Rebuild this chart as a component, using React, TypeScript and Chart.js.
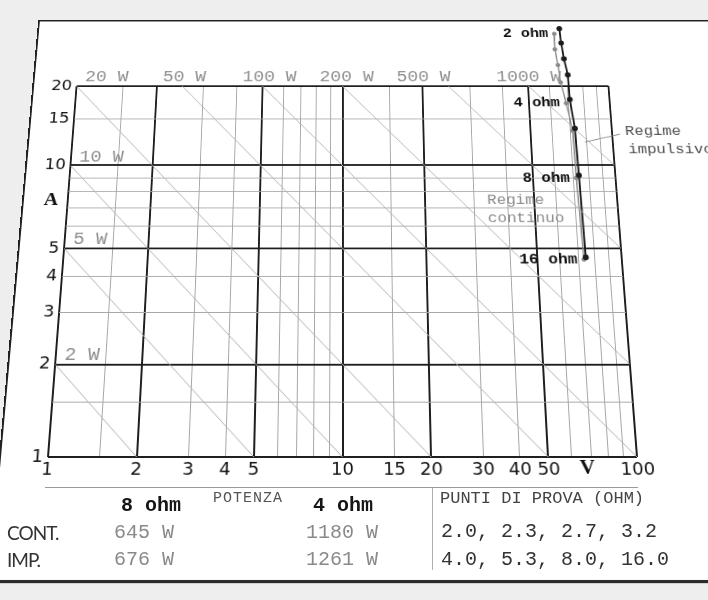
import React, { useEffect, useRef } from 'react';
import { Chart, registerables } from 'chart.js';

Chart.register(...registerables);

// Test loads (ohm) and the measured output power at each load
const loadsOhm = [2.0, 2.3, 2.7, 3.2, 4.0, 5.3, 8.0, 16.0];
const continuousWatts = [2071, 1789, 1580, 1370, 1180, 965, 645, 335];
const impulseWatts = [2274, 2010, 1766, 1565, 1261, 1005, 676, 346];
const labelledLoads = [2, 4, 8, 16];

// Constant-power reference lines (W)
const powerLinesW = [2, 5, 10, 20, 50, 100, 200, 500, 1000];
const topLabelWatts = [20, 50, 100, 200, 500, 1000];
const topLabelVolts = [1.07, 2.1, 4.2, 8.2, 16, 38];
const sideLabelWatts = [10, 5, 2];

// Log-log grid
const voltGrid = [1, 1.5, 2, 3, 4, 5, 6, 7, 8, 9, 10, 15, 20, 30, 40, 50, 60, 70, 80, 90, 100];
const voltLabels = [1, 2, 3, 4, 5, 10, 15, 20, 30, 40, 50, 100];
const voltMajor = [1, 2, 5, 10, 20, 50, 100];
const ampGrid = [1, 1.5, 2, 3, 4, 5, 6, 7, 8, 9, 10, 15, 20];
const ampLabels = [1, 2, 3, 4, 5, 10, 15, 20];
const ampMajor = [1, 2, 5, 10, 20];

const MONO = '"Liberation Mono", "Courier New", monospace';
const SANS = '"DejaVu Sans", sans-serif';

const toPoint = (ohm: number, watts: number) => ({
  x: Math.sqrt(watts * ohm),
  y: Math.sqrt(watts / ohm),
});

const continuousPoints = loadsOhm.map((r, i) => toPoint(r, continuousWatts[i]));
const impulsePoints = loadsOhm.map((r, i) => toPoint(r, impulseWatts[i]));

// each constant-power line runs from the top/left border to the bottom/right border
const powerLine = (w: number) => {
  const v0 = Math.max(1, w / 20);
  const v1 = Math.min(100, w / 1);
  return [
    { x: v0, y: w / v0 },
    { x: v1, y: w / v1 },
  ];
};

// marker style for the two load curves (drawn by the plugin so that the
// points above the 20 A border stay visible)
const markerStyle: Record<string, { r: number; color: string }> = {
  'Regime continuo': { r: 2.6, color: '#8c8c8c' },
  'Regime impulsivo': { r: 3.2, color: '#1c1c1c' },
};

const annotations = {
  id: 'annotations',
  afterDatasetsDraw(chart: any) {
    const { ctx, chartArea: area } = chart;
    const x = chart.scales.x;
    const y = chart.scales.y;
    ctx.save();

    // load curve markers
    chart.data.datasets.forEach((ds: any, i: number) => {
      const st = markerStyle[ds.label];
      if (!st) return;
      ctx.fillStyle = st.color;
      chart.getDatasetMeta(i).data.forEach((el: any) => {
        ctx.beginPath();
        ctx.arc(el.x, el.y, st.r, 0, Math.PI * 2);
        ctx.fill();
      });
    });

    ctx.textBaseline = 'middle';

    // power line captions
    ctx.font = `20px ${MONO}`;
    ctx.fillStyle = '#8e8e8e';
    ctx.textAlign = 'left';
    topLabelWatts.forEach((w, i) => {
      ctx.fillText(`${w} W`, x.getPixelForValue(topLabelVolts[i]), area.top - 11);
    });
    sideLabelWatts.forEach((w) => {
      ctx.fillText(`${w} W`, area.left + 9, y.getPixelForValue(w) - 10);
    });

    // axis units
    ctx.font = `bold 21px "Liberation Serif", serif`;
    ctx.fillStyle = '#111';
    ctx.textAlign = 'center';
    ctx.fillText('A', area.left - 18, y.getPixelForValue(7.45));
    ctx.fillText('V', x.getPixelForValue(67.5), area.bottom + 12);

    // operating regimes
    ctx.font = `17px ${MONO}`;
    ctx.textAlign = 'left';
    ctx.fillStyle = '#8a8a8a';
    const cx = x.getPixelForValue(33.6);
    const cy = y.getPixelForValue(7.46);
    ctx.fillText('Regime', cx, cy);
    ctx.fillText('continuo', cx, cy + 21);

    ctx.fillStyle = '#505050';
    const ix = x.getPixelForValue(111.8);
    const iy = y.getPixelForValue(13.44);
    ctx.fillText('Regime', ix, iy);
    ctx.fillText('impulsivo', ix + 2, iy + 22);
    ctx.strokeStyle = '#888';
    ctx.lineWidth = 1;
    ctx.beginPath();
    ctx.moveTo(x.getPixelForValue(78.9), y.getPixelForValue(12.22));
    ctx.lineTo(x.getPixelForValue(107), y.getPixelForValue(13.09));
    ctx.stroke();

    // load captions
    ctx.font = `bold 17px ${MONO}`;
    ctx.fillStyle = '#111';
    ctx.textAlign = 'right';
    labelledLoads.forEach((r) => {
      const p = continuousPoints[loadsOhm.indexOf(r)];
      ctx.fillText(`${r} ohm`, x.getPixelForValue(p.x) - 7, y.getPixelForValue(p.y));
    });
    ctx.restore();
  },
};

const wattsAt = (series: number[], ohm: number) => series[loadsOhm.indexOf(ohm)];

export default function App() {
  const canvasRef = useRef<HTMLCanvasElement>(null);

  useEffect(() => {
    const canvas = canvasRef.current;
    if (!canvas) return;
    const chart = new Chart(canvas, {
      type: 'scatter',
      data: {
        datasets: [
          ...powerLinesW.map((w) => ({
            label: `${w} W`,
            data: powerLine(w),
            showLine: true,
            borderColor: '#b0b0b0',
            borderWidth: 1,
            pointRadius: 0,
          })),
          {
            label: 'Regime continuo',
            data: continuousPoints,
            showLine: true,
            borderColor: '#8c8c8c',
            borderWidth: 1.5,
            pointRadius: 0,
            clip: false,
          },
          {
            label: 'Regime impulsivo',
            data: impulsePoints,
            showLine: true,
            borderColor: '#1c1c1c',
            borderWidth: 2,
            pointRadius: 0,
            clip: false,
          },
        ],
      } as any,
      options: {
        animation: false,
        responsive: false,
        devicePixelRatio: 1,
        layout: { padding: { left: 8, top: 100, right: 123, bottom: 0 } },
        plugins: { legend: { display: false }, tooltip: { enabled: false } },
        scales: {
          x: {
            type: 'logarithmic',
            min: 1,
            max: 100,
            afterBuildTicks: (s: any) => {
              s.ticks = voltGrid.map((v) => ({ value: v }));
            },
            afterFit: (s: any) => {
              s.height = 23;
            },
            border: { display: false },
            grid: {
              drawTicks: false,
              color: (c: any) => (voltMajor.includes(c.tick?.value) ? '#1e1e1e' : '#a6a6a6'),
              lineWidth: (c: any) => (voltMajor.includes(c.tick?.value) ? 2 : 1),
            },
            ticks: {
              autoSkip: false,
              maxRotation: 0,
              padding: 3,
              color: '#111',
              font: { family: SANS, size: 18 },
              callback: (v: any) => (voltLabels.includes(Number(v)) ? String(v) : ''),
            },
          },
          y: {
            type: 'logarithmic',
            min: 1,
            max: 20,
            afterBuildTicks: (s: any) => {
              s.ticks = ampGrid.map((v) => ({ value: v }));
            },
            afterFit: (s: any) => {
              s.width = 40;
            },
            border: { display: false },
            grid: {
              drawTicks: false,
              color: (c: any) => (ampMajor.includes(c.tick?.value) ? '#1e1e1e' : '#a6a6a6'),
              lineWidth: (c: any) => (ampMajor.includes(c.tick?.value) ? 2 : 1),
            },
            ticks: {
              autoSkip: false,
              padding: 5,
              color: '#111',
              font: { family: SANS, size: 18 },
              callback: (v: any) => (ampLabels.includes(Number(v)) ? String(v) : ''),
            },
          },
        },
      } as any,
      plugins: [annotations],
    });
    return () => chart.destroy();
  }, []);

  const txt = (
    content: string,
    left: number,
    center: number,
    size: number,
    extra: React.CSSProperties = {}
  ) => (
    <div
      style={{
        position: 'absolute',
        left,
        top: center - size / 2 - 1,
        fontSize: size,
        lineHeight: `${size + 2}px`,
        whiteSpace: 'pre',
        fontFamily: MONO,
        ...extra,
      }}
    >
      {content}
    </div>
  );

  return (
    <div
      style={{
        position: 'absolute',
        left: 0,
        top: 0,
        width: 708,
        height: 600,
        overflow: 'hidden',
        background: '#eeeeee',
      }}
    >
      {/* the printed sheet, seen slightly from below */}
      <div
        style={{
          position: 'absolute',
          left: 0,
          top: -60,
          width: 820,
          height: 720,
          transformOrigin: '342.5px 517px',
          transform: 'perspective(675px) rotateX(10deg)',
        }}
      >
        <div
          style={{
            position: 'absolute',
            left: -1,
            top: 16,
            width: 821,
            height: 625,
            boxSizing: 'border-box',
            background: '#ffffff',
            borderLeft: '2px solid #222',
            borderTop: '2px solid #222',
            borderBottom: '3px solid #2b2b2b',
          }}
        />
        <canvas
          ref={canvasRef}
          width={760}
          height={540}
          style={{ position: 'absolute', left: 0, top: 0, width: 760, height: 540 }}
        />
      </div>

      {/* power table */}
      <div style={{ position: 'absolute', left: 45, top: 487, width: 593, borderTop: '1px solid #9a9a9a' }} />
      <div style={{ position: 'absolute', left: 432, top: 488, height: 82, borderLeft: '1px solid #b0b0b0' }} />
      {txt('8 ohm', 121, 506, 20, { fontWeight: 'bold', color: '#151515' })}
      {txt('POTENZA', 213, 498, 15, { color: '#555', letterSpacing: 1 })}
      {txt('4 ohm', 313, 506, 20, { fontWeight: 'bold', color: '#151515' })}
      {txt('CONT.', 7, 532, 19, { fontFamily: 'Lato, sans-serif', color: '#333', letterSpacing: -1 })}
      {txt('IMP.', 7, 559, 19, { fontFamily: 'Lato, sans-serif', color: '#333', letterSpacing: -1 })}
      {txt(`${wattsAt(continuousWatts, 8)} W`, 114, 533, 20, { color: '#8a8a8a' })}
      {txt(`${wattsAt(impulseWatts, 8)} W`, 114, 560, 20, { color: '#8a8a8a' })}
      {txt(`${wattsAt(continuousWatts, 4)} W`, 306, 533, 20, { color: '#8a8a8a' })}
      {txt(`${wattsAt(impulseWatts, 4)} W`, 306, 560, 20, { color: '#8a8a8a' })}
      {txt('PUNTI DI PROVA (OHM)', 440, 498, 17, { color: '#444' })}
      {txt(loadsOhm.slice(0, 4).map((r) => r.toFixed(1)).join(', '), 441, 532, 20, { color: '#333' })}
      {txt(loadsOhm.slice(4).map((r) => r.toFixed(1)).join(', '), 441, 560, 20, { color: '#333' })}
    </div>
  );
}
